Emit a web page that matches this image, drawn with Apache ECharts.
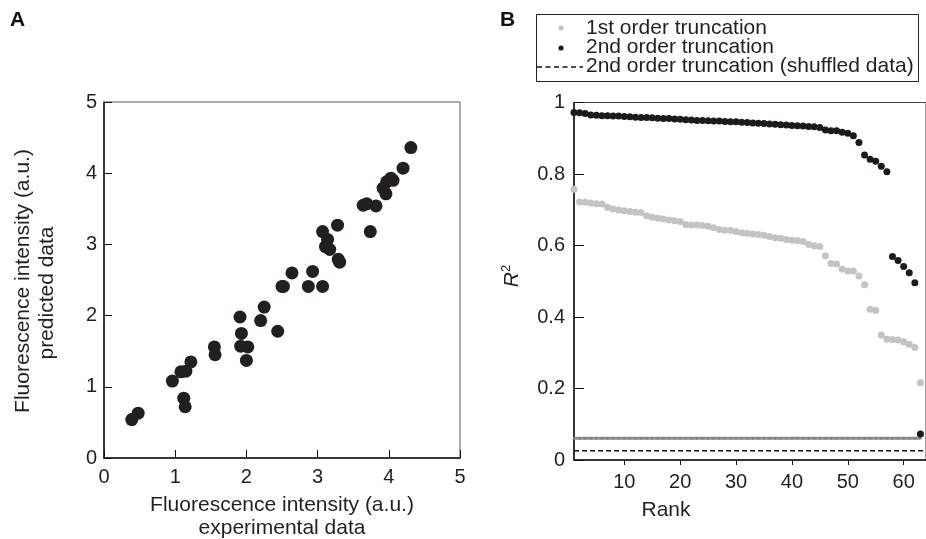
<!DOCTYPE html>
<html>
<head>
<meta charset="utf-8">
<script src="https://cdn.jsdelivr.net/npm/echarts@6/dist/echarts.min.js"></script>
<style>
html,body{margin:0;padding:0;background:#fff;}
#c{width:926px;height:539px;}
</style>
</head>
<body>
<div id="c"></div>
<script>
// Panel A: experimental vs predicted fluorescence intensity
const expData = [0.39,0.48,0.96,1.08,1.15,1.22,1.12,1.14,1.55,1.56,1.91,1.93,1.92,2.02,2.00,2.20,2.25,2.44,2.50,2.52,2.64,2.87,2.93,3.07,3.07,3.14,3.11,3.17,3.28,3.29,3.31,3.64,3.69,3.82,3.74,3.92,3.96,3.97,4.03,4.06,4.20,4.31];
const predData = [0.54,0.63,1.08,1.21,1.22,1.35,0.84,0.72,1.56,1.45,1.98,1.75,1.57,1.56,1.37,1.93,2.12,1.78,2.41,2.41,2.60,2.41,2.62,2.41,3.18,3.07,2.97,2.93,3.27,2.79,2.75,3.55,3.57,3.54,3.18,3.79,3.71,3.88,3.93,3.90,4.07,4.36];
const ticksA = [0,1,2,3,4,5];

// Panel B: R^2 by rank
const ranks = [1,2,3,4,5,6,7,8,9,10,11,12,13,14,15,16,17,18,19,20,21,22,23,24,25,26,27,28,29,30,31,32,33,34,35,36,37,38,39,40,41,42,43,44,45,46,47,48,49,50,51,52,53,54,55,56,57,58,59,60,61,62,63];
const firstOrder = [0.757,0.722,0.721,0.719,0.717,0.716,0.707,0.702,0.699,0.697,0.695,0.693,0.692,0.683,0.679,0.676,0.674,0.671,0.669,0.667,0.659,0.657,0.657,0.656,0.654,0.650,0.645,0.643,0.643,0.639,0.636,0.634,0.632,0.631,0.629,0.625,0.622,0.620,0.617,0.615,0.613,0.611,0.603,0.599,0.597,0.571,0.550,0.548,0.534,0.529,0.529,0.515,0.490,0.422,0.418,0.350,0.338,0.337,0.336,0.331,0.324,0.315,0.216];
const secondOrder = [0.972,0.971,0.969,0.965,0.964,0.963,0.963,0.962,0.962,0.961,0.960,0.959,0.958,0.958,0.957,0.956,0.955,0.955,0.954,0.953,0.952,0.951,0.950,0.950,0.949,0.948,0.948,0.947,0.946,0.946,0.945,0.944,0.943,0.942,0.941,0.940,0.939,0.938,0.937,0.936,0.935,0.934,0.933,0.932,0.930,0.923,0.921,0.921,0.917,0.914,0.907,0.888,0.853,0.841,0.836,0.822,0.806,0.569,0.558,0.541,0.524,0.496,0.073];
const firstShuffled = [0.061,0.061,0.061,0.061,0.061,0.061,0.061,0.061,0.061,0.061,0.061,0.061,0.061,0.061,0.061,0.061,0.061,0.061,0.061,0.061,0.061,0.061,0.061,0.061,0.061,0.061,0.061,0.061,0.061,0.061,0.061,0.061,0.061,0.061,0.061,0.061,0.061,0.061,0.061,0.061,0.061,0.061,0.061,0.061,0.061,0.061,0.061,0.061,0.061,0.061,0.061,0.061,0.061,0.061,0.061,0.061,0.061,0.061,0.061,0.061,0.061,0.061,0.061];
const secondShuffled = [0.026,0.026,0.026,0.026,0.026,0.026,0.026,0.026,0.026,0.026,0.026,0.026,0.026,0.026,0.026,0.026,0.026,0.026,0.026,0.026,0.026,0.026,0.026,0.026,0.026,0.026,0.026,0.026,0.026,0.026,0.026,0.026,0.026,0.026,0.026,0.026,0.026,0.026,0.026,0.026,0.026,0.026,0.026,0.026,0.026,0.026,0.026,0.026,0.026,0.026,0.026,0.026,0.026,0.026,0.026,0.026,0.026,0.026,0.026,0.026,0.026,0.026,0.026];
const rankTicks = [10,20,30,40,50,60];
const r2Ticks = [0,0.2,0.4,0.6,0.8,1];

const FONT = '"Liberation Sans", Arial, Helvetica, sans-serif';
const TXT = '#231f20';
const chart = echarts.init(document.getElementById('c'), null, {renderer:'canvas'});

const pair = (xs, ys) => xs.map((x, i) => [x, ys[i]]);

const option = {
  animation: false,
  backgroundColor: '#fff',
  textStyle: {fontFamily: FONT, color: TXT},
  grid: [
    {left: 104, top: 102, width: 356, height: 356, show: true, borderColor: '#555', borderWidth: 1, containLabel: false},
    {left: 574, top: 102.5, width: 357, height: 357.5, show: true, borderColor: '#444', borderWidth: 1, containLabel: false}
  ],
  xAxis: [
    {gridIndex: 0, type: 'value', min: 0, max: 5, interval: 1,
     axisLine: {lineStyle: {color: '#111', width: 1.5}},
     axisTick: {inside: true, length: 8, lineStyle: {color: '#111', width: 1}},
     axisLabel: {margin: 9, fontSize: 20, color: TXT, fontFamily: FONT, customValues: ticksA},
     splitLine: {show: false}},
    {gridIndex: 1, type: 'value', min: 1, max: 64,
     axisLine: {lineStyle: {color: '#111', width: 1.5}},
     axisTick: {inside: false, length: 5, customValues: rankTicks, lineStyle: {color: '#111', width: 1}},
     axisLabel: {margin: 12, fontSize: 20, color: TXT, fontFamily: FONT, customValues: rankTicks},
     splitLine: {show: false}}
  ],
  yAxis: [
    {gridIndex: 0, type: 'value', min: 0, max: 5, interval: 1,
     axisLine: {lineStyle: {color: '#111', width: 1.5}},
     axisTick: {inside: true, length: 8, lineStyle: {color: '#111', width: 1}},
     axisLabel: {margin: 7, fontSize: 20, color: TXT, fontFamily: FONT},
     splitLine: {show: false}},
    {gridIndex: 1, type: 'value', min: 0, max: 1, interval: 0.2,
     axisLine: {lineStyle: {color: '#111', width: 1.5}},
     axisTick: {inside: true, length: 10, lineStyle: {color: '#111', width: 1}},
     axisLabel: {margin: 9, fontSize: 20, color: TXT, fontFamily: FONT},
     splitLine: {show: false}}
  ],
  series: [
    {name: 'A', type: 'scatter', xAxisIndex: 0, yAxisIndex: 0, symbolSize: 13,
     itemStyle: {color: '#231f20', opacity: 1}, data: pair(expData, predData), z: 3},
    {name: '1st order truncation (shuffled data)', type: 'line', xAxisIndex: 1, yAxisIndex: 1,
     data: pair(ranks, firstShuffled), symbol: 'circle', symbolSize: 2.5, showSymbol: true,
     itemStyle: {color: '#7d7d7d'}, lineStyle: {color: '#8f8f8f', width: 3}, z: 2},
    {name: '2nd order truncation (shuffled data)', type: 'line', xAxisIndex: 1, yAxisIndex: 1,
     data: pair([1, 64], [secondShuffled[0], secondShuffled[secondShuffled.length-1]]), symbol: 'none',
     lineStyle: {color: '#111', width: 1.6, type: [5, 3]}, z: 2},
    {name: '1st order truncation', type: 'scatter', xAxisIndex: 1, yAxisIndex: 1, symbolSize: 7,
     itemStyle: {color: '#c3c3c5', opacity: 1}, data: pair(ranks, firstOrder), z: 3},
    {name: '2nd order truncation', type: 'scatter', xAxisIndex: 1, yAxisIndex: 1, symbolSize: 7,
     itemStyle: {color: '#1e1a1b', opacity: 1}, data: pair(ranks, secondOrder), z: 4}
  ],
  graphic: [
    {type: 'text', left: 10, top: 10, style: {text: 'A', font: 'bold 21px ' + FONT, fill: '#111'}},
    {type: 'text', left: 500, top: 10, style: {text: 'B', font: 'bold 21px ' + FONT, fill: '#111'}},
    // Panel A axis titles
    {type: 'text', x: 282, y: 505, style: {text: 'Fluorescence intensity (a.u.)', font: '21px ' + FONT, fill: TXT, align: 'center', verticalAlign: 'middle'}},
    {type: 'text', x: 282, y: 528, style: {text: 'experimental data', font: '21px ' + FONT, fill: TXT, align: 'center', verticalAlign: 'middle'}},
    {type: 'text', x: 23, y: 281, rotation: Math.PI / 2, style: {text: 'Fluorescence intensity (a.u.)', font: '21px ' + FONT, fill: TXT, align: 'center', verticalAlign: 'middle'}},
    {type: 'text', x: 47, y: 293, rotation: Math.PI / 2, style: {text: 'predicted data', font: '21px ' + FONT, fill: TXT, align: 'center', verticalAlign: 'middle'}},
    // Panel B axis titles
    {type: 'text', x: 666, y: 510, style: {text: 'Rank', font: '21px ' + FONT, fill: TXT, align: 'center', verticalAlign: 'middle'}},
    {type: 'text', x: 512, y: 276, rotation: Math.PI / 2, style: {
      text: '{i|R}{s|2}', align: 'center', verticalAlign: 'middle', fill: TXT,
      rich: {i: {fontFamily: FONT, fontSize: 21, fontStyle: 'italic', lineHeight: 24, fill: TXT},
             s: {fontFamily: FONT, fontSize: 13, verticalAlign: 'top', lineHeight: 24, fill: TXT}}}},
    // Legend
    {type: 'rect', shape: {x: 536.5, y: 14.5, width: 382, height: 67}, style: {fill: '#fff', stroke: '#222', lineWidth: 1}, z: 10},
    {type: 'circle', shape: {cx: 561, cy: 28, r: 2.6}, style: {fill: '#c3c3c5'}, z: 11},
    {type: 'circle', shape: {cx: 561, cy: 48, r: 2.6}, style: {fill: '#1e1a1b'}, z: 11},
    {type: 'line', shape: {x1: 537, y1: 67, x2: 583, y2: 67}, style: {stroke: '#111', lineWidth: 1.3, lineDash: [5, 3.5]}, z: 11},
    {type: 'text', x: 586, y: 28.5, z: 11, style: {text: '1st order truncation', font: '21px ' + FONT, fill: TXT, align: 'left', verticalAlign: 'middle'}},
    {type: 'text', x: 586, y: 47.5, z: 11, style: {text: '2nd order truncation', font: '21px ' + FONT, fill: TXT, align: 'left', verticalAlign: 'middle'}},
    {type: 'text', x: 586, y: 66.5, z: 11, style: {text: '2nd order truncation (shuffled data)', font: '21px ' + FONT, fill: TXT, align: 'left', verticalAlign: 'middle'}}
  ]
};
chart.setOption(option);
</script>
</body>
</html>
